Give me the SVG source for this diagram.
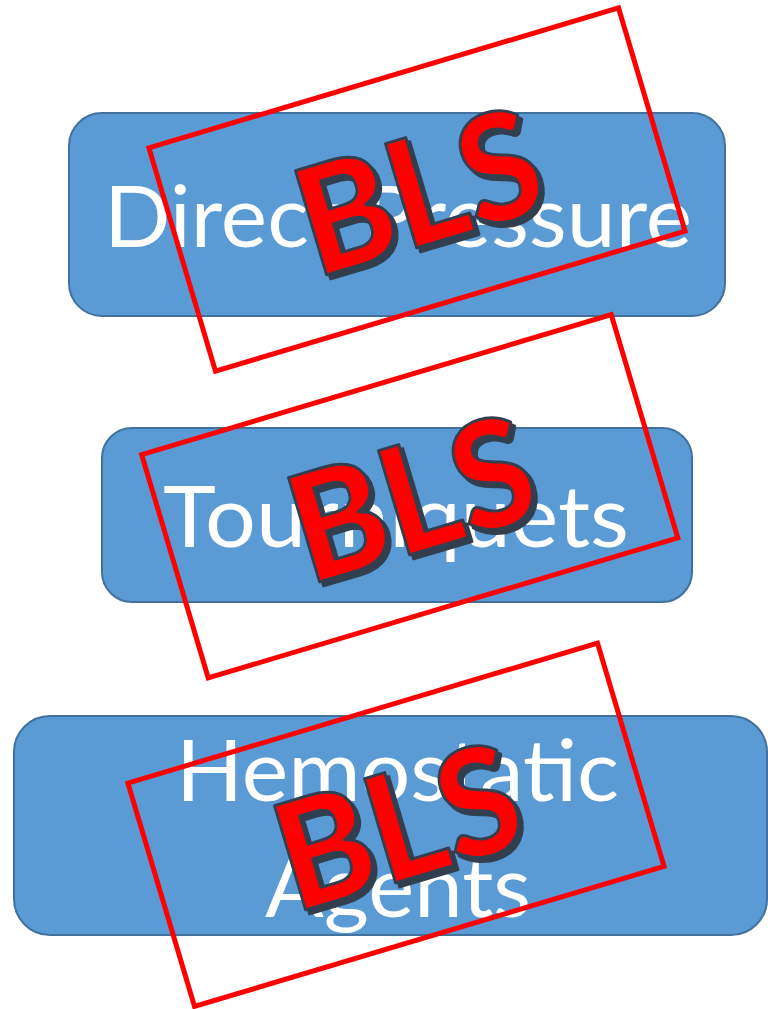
<svg xmlns="http://www.w3.org/2000/svg" width="768" height="1009" viewBox="0 0 768 1009">
<style>
.box{fill:#5B9BD5;stroke:#41719C;stroke-width:2}
.lbl{fill:#FFFFFF;font-family:Lato,"Open Sans","Liberation Sans",sans-serif;font-size:85px;font-weight:400}
.frame{fill:none;stroke:#FF0000;stroke-width:5;stroke-linejoin:miter}
.bls{font-family:Lato,"Open Sans","Liberation Sans",sans-serif;font-size:150px;font-weight:900;text-anchor:middle;stroke-linejoin:round}
.blsShadow{fill:#323F4F;stroke:#323F4F;stroke-width:3}
.blsMain{fill:#FF0000;stroke:#323F4F;stroke-width:3}
</style>
<rect x="0" y="0" width="768" height="1009" fill="#FFFFFF"/>
<g id="node-direct-pressure">
<rect class="box" x="69" y="113" width="656" height="203" rx="33" ry="33"/>
<text class="lbl" x="104" y="247" textLength="588" lengthAdjust="spacingAndGlyphs">Direct Pressure</text>
</g>
<g id="node-tourniquets">
<rect class="box" x="102" y="428" width="590" height="174" rx="30" ry="30"/>
<text class="lbl" x="163" y="547" textLength="466" lengthAdjust="spacingAndGlyphs">Tourniquets</text>
</g>
<g id="node-hemostatic-agents">
<rect class="box" x="14" y="716" width="753" height="219" rx="36" ry="36"/>
<text class="lbl" x="176" y="801" textLength="443" lengthAdjust="spacingAndGlyphs">Hemostatic</text>
<text class="lbl" x="265" y="917" textLength="266" lengthAdjust="spacingAndGlyphs">Agents</text>
</g>
<g id="connectors"/>
<g id="stamp-1">
<rect class="frame" transform="translate(417 189.5) rotate(-16.6)" x="-245" y="-116.5" width="490" height="233"/>
<text class="bls blsShadow" transform="translate(423 196) rotate(-16.6)" x="0" y="53" textLength="246" lengthAdjust="spacingAndGlyphs">BLS</text>
<text class="bls blsMain" transform="translate(419 192) rotate(-16.6)" x="0" y="53" textLength="246" lengthAdjust="spacingAndGlyphs">BLS</text>
</g>
<g id="stamp-2">
<rect class="frame" transform="translate(409.75 496.25) rotate(-16.6)" x="-245" y="-116.5" width="490" height="233"/>
<text class="bls blsShadow" transform="translate(416 503) rotate(-16.6)" x="0" y="53" textLength="246" lengthAdjust="spacingAndGlyphs">BLS</text>
<text class="bls blsMain" transform="translate(412 499) rotate(-16.6)" x="0" y="53" textLength="246" lengthAdjust="spacingAndGlyphs">BLS</text>
</g>
<g id="stamp-3">
<rect class="frame" transform="translate(396 824.75) rotate(-16.6)" x="-245" y="-116.5" width="490" height="233"/>
<text class="bls blsShadow" transform="translate(402 831) rotate(-16.6)" x="0" y="53" textLength="246" lengthAdjust="spacingAndGlyphs">BLS</text>
<text class="bls blsMain" transform="translate(398 827) rotate(-16.6)" x="0" y="53" textLength="246" lengthAdjust="spacingAndGlyphs">BLS</text>
</g>
</svg>
